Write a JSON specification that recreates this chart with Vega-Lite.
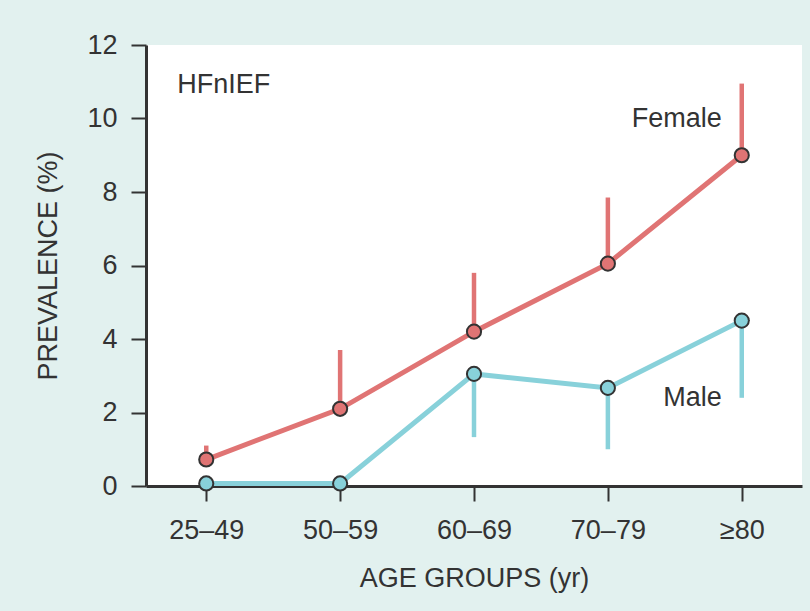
{
  "$schema": "https://vega.github.io/schema/vega-lite/v6.json",
  "autosize": "none",
  "width": 656,
  "height": 441,
  "padding": {"left": 146, "top": 45, "right": 8, "bottom": 125},
  "background": "#e2f1ef",
  "config": {
    "view": {"fill": "white", "stroke": null},
    "font": "Liberation Sans",
    "axis": {
      "domainColor": "#333333",
      "domainWidth": 3,
      "tickColor": "#333333",
      "tickWidth": 2,
      "tickSize": 15,
      "labelColor": "#333333",
      "labelFontSize": 27,
      "labelFont": "Liberation Sans",
      "titleColor": "#333333",
      "titleFontSize": 27,
      "titleFont": "Liberation Sans",
      "titleFontWeight": "normal",
      "grid": false
    }
  },
  "datasets": {
    "prev": [
      {"age": "25–49", "sex": "Female", "value": 0.72, "bound": 1.1},
      {"age": "50–59", "sex": "Female", "value": 2.1, "bound": 3.7},
      {"age": "60–69", "sex": "Female", "value": 4.2, "bound": 5.8},
      {"age": "70–79", "sex": "Female", "value": 6.05, "bound": 7.85},
      {"age": "≥80", "sex": "Female", "value": 9.0, "bound": 10.95},
      {"age": "25–49", "sex": "Male", "value": 0.07, "bound": 0.07},
      {"age": "50–59", "sex": "Male", "value": 0.07, "bound": 0.07},
      {"age": "60–69", "sex": "Male", "value": 3.05, "bound": 1.33},
      {"age": "70–79", "sex": "Male", "value": 2.67, "bound": 1.0},
      {"age": "≥80", "sex": "Male", "value": 4.5, "bound": 2.4}
    ],
    "labels": [
      {"age": "≥80", "label": "Female", "y": 9.77},
      {"age": "≥80", "label": "Male", "y": 2.18}
    ],
    "panel": [
      {"age": "25–49", "label": "HFnIEF", "y": 10.7}
    ]
  },
  "encoding": {
    "x": {
      "field": "age",
      "type": "ordinal",
      "sort": ["25–49", "50–59", "60–69", "70–79", "≥80"],
      "scale": {"type": "point", "padding": 0.45},
      "axis": {"title": "AGE GROUPS (yr)", "labelAngle": 0, "labelPadding": 16, "titlePadding": 22}
    }
  },
  "layer": [
    {
      "data": {"name": "prev"},
      "mark": {"type": "line", "strokeWidth": 5},
      "encoding": {
        "y": {
          "field": "value",
          "type": "quantitative",
          "scale": {"domain": [0, 12], "nice": false},
          "axis": {"title": "PREVALENCE (%)", "values": [0, 2, 4, 6, 8, 10, 12], "labelPadding": 14, "titlePadding": 24}
        },
        "color": {
          "field": "sex",
          "type": "nominal",
          "scale": {"domain": ["Female", "Male"], "range": ["#e07474", "#88d1da"]},
          "legend": null
        }
      }
    },
    {
      "data": {"name": "prev"},
      "mark": {"type": "rule", "strokeWidth": 4.5},
      "encoding": {
        "y": {"field": "value", "type": "quantitative"},
        "y2": {"field": "bound"},
        "color": {"field": "sex", "type": "nominal", "legend": null}
      }
    },
    {
      "data": {"name": "prev"},
      "mark": {"type": "point", "filled": true, "shape": "circle", "size": 200, "stroke": "#333333", "strokeWidth": 2, "opacity": 1},
      "encoding": {
        "y": {"field": "value", "type": "quantitative"},
        "fill": {"field": "sex", "type": "nominal", "scale": {"domain": ["Female", "Male"], "range": ["#e07474", "#88d1da"]}, "legend": null}
      }
    },
    {
      "data": {"name": "labels"},
      "mark": {"type": "text", "align": "right", "baseline": "alphabetic", "dx": -20, "fontSize": 27, "color": "#333333"},
      "encoding": {
        "y": {"field": "y", "type": "quantitative"},
        "text": {"field": "label"}
      }
    },
    {
      "data": {"name": "panel"},
      "mark": {"type": "text", "align": "left", "baseline": "alphabetic", "dx": -29, "fontSize": 27, "color": "#333333"},
      "encoding": {
        "y": {"field": "y", "type": "quantitative"},
        "text": {"field": "label"}
      }
    }
  ]
}
